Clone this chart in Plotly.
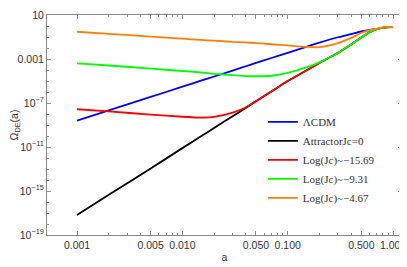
import plotly.graph_objects as go

# scale factor a (shared grid)
a_vals = [0.001, 0.002, 0.005, 0.01, 0.015, 0.02, 0.03, 0.04, 0.05, 0.07, 0.1,
          0.15, 0.2, 0.3, 0.4, 0.5, 0.6, 0.7, 0.8, 0.9, 1.0]

lcdm = [2.45e-9, 2.14e-8, 3.55e-7, 3.02e-6, 1.07e-5, 2.57e-5, 8.9e-5, 2.2e-4, 4.4e-4,
        1.23e-3, 3.55e-3, 0.0129, 0.031, 0.095, 0.186, 0.316, 0.437, 0.56, 0.69, 0.76, 0.81]

attractor = [6.6e-18, 4.5e-16, 1.1e-13, 7.9e-12, 9.3e-11, 5.4e-10, 6.3e-9, 3.6e-8, 1.45e-7,
             1.12e-6, 9.8e-6, 8.9e-5, 4.4e-4, 3.5e-3, 0.021, 0.089, 0.28, 0.51, 0.71, 0.78, 0.81]

jc_15_69 = [2.7e-8, 1.7e-8, 8.9e-9, 5.6e-9, 4.7e-9, 5.4e-9, 1.32e-8, 3.9e-8, 1.45e-7,
            1.12e-6, 9.8e-6, 8.9e-5, 4.4e-4, 3.5e-3, 0.021, 0.089, 0.28, 0.51, 0.71, 0.78, 0.81]

jc_9_31 = [4.07e-4, 2.57e-4, 1.35e-4, 8.1e-5, 5.9e-5, 4.5e-5, 3.4e-5, 2.8e-5, 2.7e-5,
           3.0e-5, 5.4e-5, 1.7e-4, 5.0e-4, 3.5e-3, 0.021, 0.089, 0.28, 0.51, 0.71, 0.78, 0.81]

jc_4_67 = [0.30, 0.195, 0.11, 0.071, 0.054, 0.047, 0.036, 0.032, 0.028,
           0.022, 0.017, 0.0125, 0.0118, 0.028, 0.083, 0.23, 0.42, 0.59, 0.71, 0.78, 0.81]

series_names = ["\u039bCDM", "AttractorJc=0", "Log(Jc)~\u221215.69",
                "Log(Jc)~\u22129.31", "Log(Jc)~\u22124.67"]
series_vals = [lcdm, attractor, jc_15_69, jc_9_31, jc_4_67]
series_colors = ["#0000ff", "#000000", "#ff0000", "#00ff00", "#ff8000"]

x_tickvals = [0.001, 0.005, 0.01, 0.05, 0.1, 0.5, 1.0]
x_ticktext = ["0.001", "0.005", "0.010", "0.050", "0.100", "0.500", "1.000"]
x_minor = [0.002, 0.003, 0.004, 0.006, 0.007, 0.008, 0.009,
           0.02, 0.03, 0.04, 0.06, 0.07, 0.08, 0.09,
           0.2, 0.3, 0.4, 0.6, 0.7, 0.8, 0.9]

y_tickvals = [10, 1e-3, 1e-7, 1e-11, 1e-15, 1e-19]
y_ticktext = ["10", "0.001", "10<sup>\u22127</sup>", "10<sup>\u221211</sup>",
              "10<sup>\u221215</sup>", "10<sup>\u221219</sup>"]
y_minor = [10.0 ** (-k) for k in range(-1, 20)]

fig = go.Figure()
for name, vals, col in zip(series_names, series_vals, series_colors):
    fig.add_trace(go.Scatter(x=a_vals, y=vals, mode="lines", name=name,
                             line=dict(color=col, width=1.8, shape="spline", smoothing=0.6)))

frame_col = "#8a8a8a"
# the page body adds an 8px offset; the figure is sized so that the plot lands
# where the reference has it inside the 407x267 window
fig.update_layout(
    width=399, height=259,
    margin=dict(l=39, r=5, t=7, b=32, autoexpand=False),
    paper_bgcolor="white", plot_bgcolor="white",
    font=dict(family="Liberation Sans, Arial, sans-serif", size=10.5, color="#333333"),
    legend=dict(x=0.608, y=0.58, xanchor="left", yanchor="top",
                font=dict(family="Liberation Serif, Times New Roman, serif", size=11, color="#333333"),
                bgcolor="rgba(0,0,0,0)", tracegroupgap=0),
    showlegend=True,
)
fig.update_xaxes(
    type="log", range=[-3.285, 0.085], automargin=False,
    tickvals=x_tickvals, ticktext=x_ticktext,
    ticks="inside", ticklen=4, tickcolor=frame_col, tickwidth=1,
    minor=dict(tickvals=x_minor, ticks="inside", ticklen=2, tickcolor=frame_col, showgrid=False),
    showline=True, linecolor=frame_col, linewidth=1, mirror="allticks",
    showgrid=False, zeroline=False,
    title=dict(text="a", standoff=4, font=dict(size=10.5)),
)
fig.update_yaxes(
    type="log", range=[-19, 1], automargin=False,
    tickvals=y_tickvals, ticktext=y_ticktext,
    ticks="inside", ticklen=4, tickcolor=frame_col, tickwidth=1,
    minor=dict(tickvals=y_minor, ticks="inside", ticklen=2, tickcolor=frame_col, showgrid=False),
    showline=True, linecolor=frame_col, linewidth=1, mirror="allticks",
    showgrid=False, zeroline=False,
    title=dict(text="\u03a9<sub>DE</sub>(a)", standoff=2, font=dict(size=10.5)),
)

fig.write_html("out.html")
